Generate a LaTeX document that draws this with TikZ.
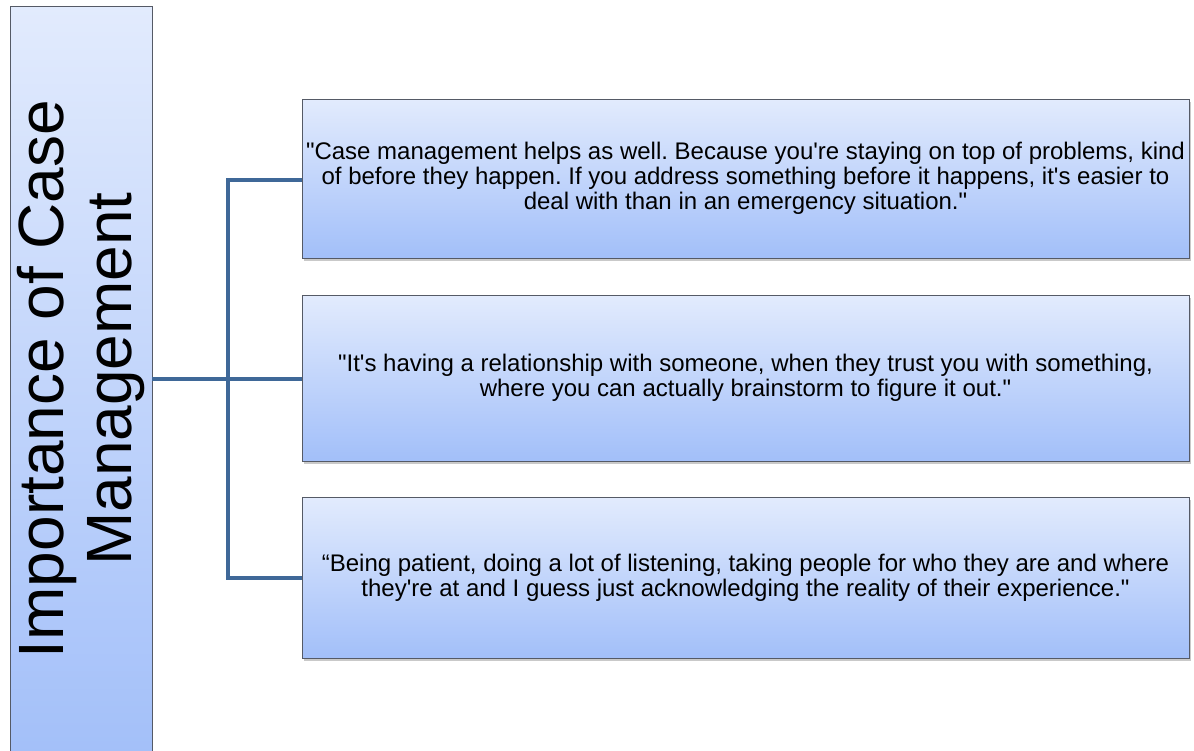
\documentclass[tikz,border=0pt]{standalone}
\usepackage{fontspec}
\setmainfont{Liberation Sans}[Ligatures=TeXOff]
\frenchspacing
\usetikzlibrary{shadows}
\definecolor{topc}{HTML}{E2EBFD}
\definecolor{botc}{HTML}{A2BFF9}
\definecolor{linec}{HTML}{3F6898}
\definecolor{edgec}{HTML}{555A66}
\tikzset{
  quotebox/.style={draw=edgec, line width=0.8pt, top color=topc, bottom color=botc,
    minimum width=887pt, inner sep=0pt, align=center, font=\fontsize{24}{25}\selectfont,
    drop shadow={shadow xshift=2pt, shadow yshift=-3pt, opacity=0.35, fill=black!60}},
  conn/.style={draw=linec, line width=4pt}
}
\begin{document}
\begin{tikzpicture}[x=1pt,y=-1pt]
\useasboundingbox (0,0) rectangle (1194,750);
\clip (0,0) rectangle (1194,750);
\fill[white] (0,0) rectangle (1194,750);
\node[draw=edgec, line width=0.8pt, top color=topc, bottom color=botc, minimum width=142pt, minimum height=760pt, inner sep=0pt] (L) at (81,386) {};
\node[rotate=90, align=center, font=\fontsize{64}{68}\selectfont] (T) at (81,379) {Importance of Case\\Management};
\node[quotebox, minimum height=159pt] (B1) at (745.5,178.5) {"Case management helps as well. Because you're staying on top of problems, kind\\of before they happen. If you address something before it happens, it's easier to\\deal with than in an emergency situation."};
\node[quotebox, minimum height=166pt] (B2) at (745.5,378) {"It's having a relationship with someone, when they trust you with something,\\where you can actually brainstorm to figure it out."};
\node[quotebox, minimum height=161pt] (B3) at (745.5,577.5) {“Being patient, doing a lot of listening, taking people for who they are and where\\they're at and I guess just acknowledging the reality of their experience."};
\coordinate (J) at (228,379);
\draw[conn] (L.east |- J) -- (B2.west |- J);
\draw[conn] (B1.west |- 0,180) -- (J |- 0,180) -- (J |- 0,578) -- (B3.west |- 0,578);
\end{tikzpicture}
\end{document}
